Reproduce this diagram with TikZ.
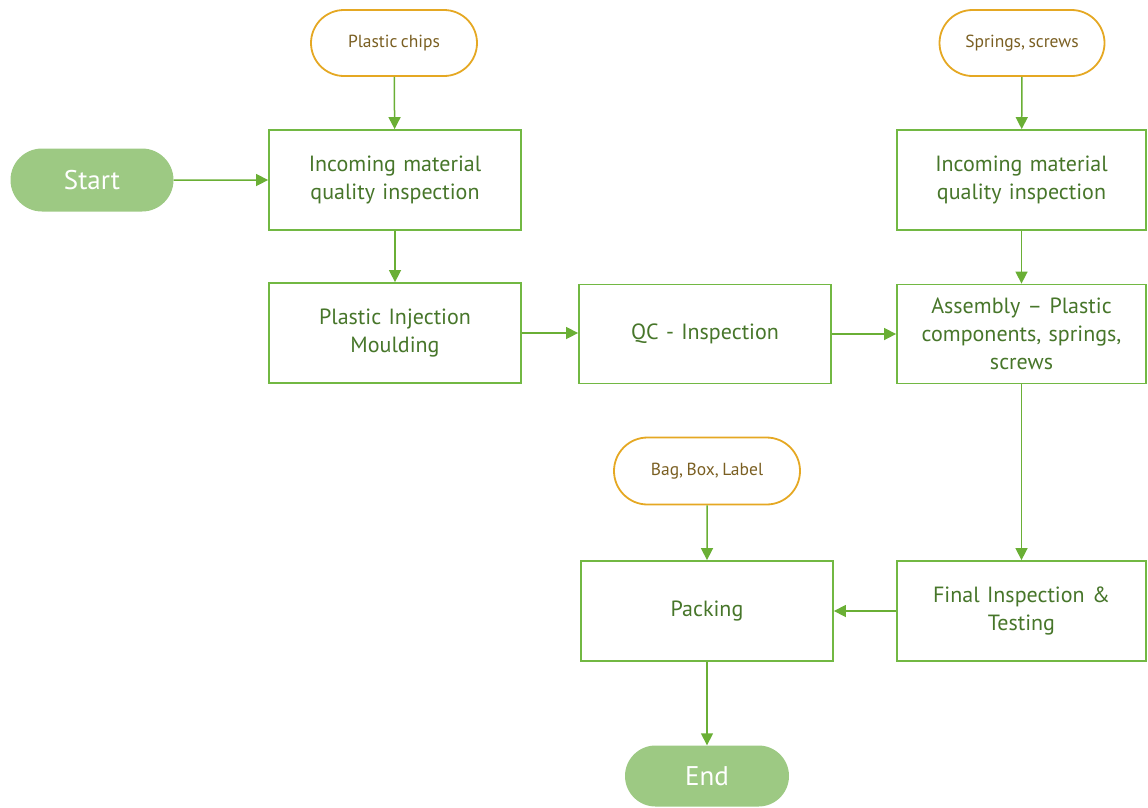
\documentclass[tikz,border=0pt]{standalone}
\usepackage{fontspec}
\setmainfont[WordSpace=0.75]{PT Sans}
\usetikzlibrary{arrows.meta,shapes.misc}
\definecolor{boxgreen}{HTML}{72B843}
\definecolor{arrowgreen}{HTML}{6AAF35}
\definecolor{textgreen}{HTML}{47762A}
\definecolor{termfill}{HTML}{9DC983}
\definecolor{inorange}{HTML}{E5A823}
\definecolor{intext}{HTML}{7A5F22}
\tikzset{
  procbox/.style={draw=boxgreen, line width=1.8pt, fill=white, minimum width=252pt, minimum height=100pt, text width=236pt, align=center, text=textgreen, font=\fontsize{22}{28}\selectfont, inner sep=0pt},
  inputbox/.style={draw=inorange, line width=1.8pt, rounded rectangle, minimum height=66pt, align=center, text=intext, font=\fontsize{17.5}{20}\selectfont, inner sep=0pt},
  termbox/.style={fill=termfill, rounded rectangle, minimum width=163pt, minimum height=63pt, text=white, font=\fontsize{27}{32}\selectfont, inner sep=0pt},
  flow/.style={draw=arrowgreen, line width=1.5pt, -{Triangle[length=12pt,width=12pt]}}
}
\begin{document}
\begin{tikzpicture}[x=1pt,y=-1pt]
\useasboundingbox (0,0) rectangle (1148,807);
\node[inputbox, minimum width=166pt] (chips) at (394,43) {Plastic chips};
\node[termbox] (start) at (92,180) {Start};
\node[procbox] (inc1) at (395,180) {Incoming material\\quality inspection};
\node[procbox] (mould) at (395,333) {Plastic Injection\\Moulding};
\node[procbox, minimum height=99pt] (qc) at (705,334) {QC - Inspection};
\node[inputbox, minimum width=165pt] (springs) at (1022,43) {Springs, screws};
\node[procbox, minimum width=249pt] (inc2) at (1021.5,180) {Incoming material\\quality inspection};
\node[procbox, minimum width=249pt, minimum height=99pt] (asm) at (1021.5,334) {Assembly – Plastic\\components, springs,\\screws};
\node[inputbox, minimum width=186pt, minimum height=67pt] (bag) at (707,471) {Bag, Box, Label};
\node[procbox] (pack) at (707,611) {Packing};
\node[procbox, minimum width=249pt] (final) at (1021.5,611) {Final Inspection \&\\Testing};
\node[termbox, minimum width=164pt, minimum height=61pt] (end) at (707,776) {End};
\draw[flow] (chips) -- (inc1);
\draw[flow] (start) -- (inc1);
\draw[flow] (inc1) -- (mould);
\draw[flow] (mould.east) -- (qc.west |- mould.east);
\draw[flow] (qc) -- (asm);
\draw[flow] (springs) -- (inc2);
\draw[flow] (inc2) -- (asm);
\draw[flow] (asm) -- (final);
\draw[flow] (final) -- (pack);
\draw[flow] (bag) -- (pack);
\draw[flow] (pack) -- (end);
\end{tikzpicture}
\end{document}
